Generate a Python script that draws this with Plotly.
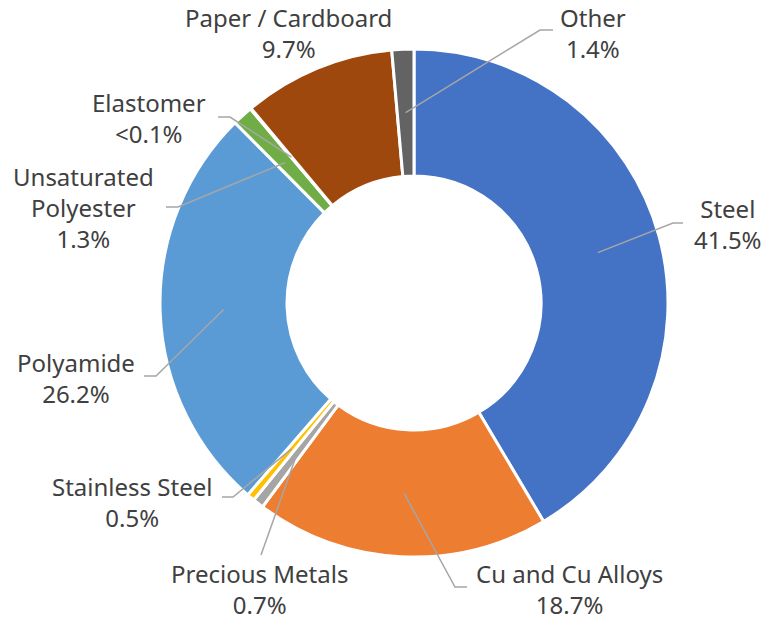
import math
import plotly.graph_objects as go

# ---- data ----
categories = ["Steel", "Cu and Cu Alloys", "Precious Metals", "Stainless Steel",
              "Polyamide", "Unsaturated Polyester", "Elastomer", "Paper / Cardboard", "Other"]
values = [41.5, 18.7, 0.7, 0.5, 26.2, 1.3, 0.05, 9.7, 1.4]
pct_labels = ["41.5%", "18.7%", "0.7%", "0.5%", "26.2%", "1.3%", "&lt;0.1%", "9.7%", "1.4%"]
label_text = ["Steel", "Cu and Cu Alloys", "Precious Metals", "Stainless Steel",
              "Polyamide", "Unsaturated<br>Polyester", "Elastomer", "Paper / Cardboard", "Other"]
colors = ["#4472C4", "#ED7D31", "#A5A5A5", "#FFC000", "#5B9BD5",
          "#70AD47", "#264478", "#9E480E", "#636363"]

# ---- layout (pixels) ----
W, H = 763, 621
CX, CY, R = 414, 303, 254
HOLE = 0.5
# label block centres
label_pos = [(728, 224), (569, 589), (259, 589), (132, 502), (76, 378),
             (83, 208), (149, 118), (288, 33), (593, 33)]
# leader end near label, and elbow offset (dx) ; None = no leader
leader_end = [(683, 223), (467, 587), (261, 555), (222, 497), (144, 376),
              (166, 207), (218, 117), None, (553, 30)]
elbow_dx = [-10, -12, 0, 11, 12, 12, 12, 0, -13]

def px(x, y):
    return x / W, 1 - y / H

fig = go.Figure(go.Pie(
    labels=categories, values=values, sort=False, direction="clockwise",
    rotation=0, hole=HOLE, textinfo="none",
    marker=dict(colors=colors, line=dict(color="white", width=3)),
    domain=dict(x=[(CX - R) / W, (CX + R) / W], y=[1 - (CY + R) / H, 1 - (CY - R) / H]),
    showlegend=False,
))

total = sum(values)
cum = 0.0
shapes, annotations = [], []
rmid = R * (1 + HOLE) / 2
for i, v in enumerate(values):
    mid = (cum + v / 2) / total * 2 * math.pi
    cum += v
    ax_, ay_ = CX + rmid * math.sin(mid), CY - rmid * math.cos(mid)
    if leader_end[i] is not None:
        ex, ey = leader_end[i]
        bx, by = ex + elbow_dx[i], ey
        p = [px(ax_, ay_), px(bx, by), px(ex, ey)]
        path = "M {} {} L {} {} L {} {}".format(p[0][0], p[0][1], p[1][0], p[1][1], p[2][0], p[2][1])
        shapes.append(dict(type="path", xref="paper", yref="paper", path=path,
                           line=dict(color="#A6A6A6", width=1.5)))
    lx, ly = label_pos[i]
    x, y = px(lx, ly)
    annotations.append(dict(x=x, y=y, xref="paper", yref="paper", showarrow=False,
                            text=label_text[i] + "<br>" + pct_labels[i],
                            xanchor="center", yanchor="middle", align="center",
                            borderpad=0,
                            font=dict(family="Noto Sans", size=24, color="#404040")))

fig.update_layout(width=W, height=H, margin=dict(l=0, r=0, t=0, b=0),
                  paper_bgcolor="white", plot_bgcolor="white",
                  shapes=shapes, annotations=annotations)
fig.write_html("out.html", config={"displayModeBar": False},
               post_script="document.body.style.margin='0';document.body.style.overflow='hidden';")
